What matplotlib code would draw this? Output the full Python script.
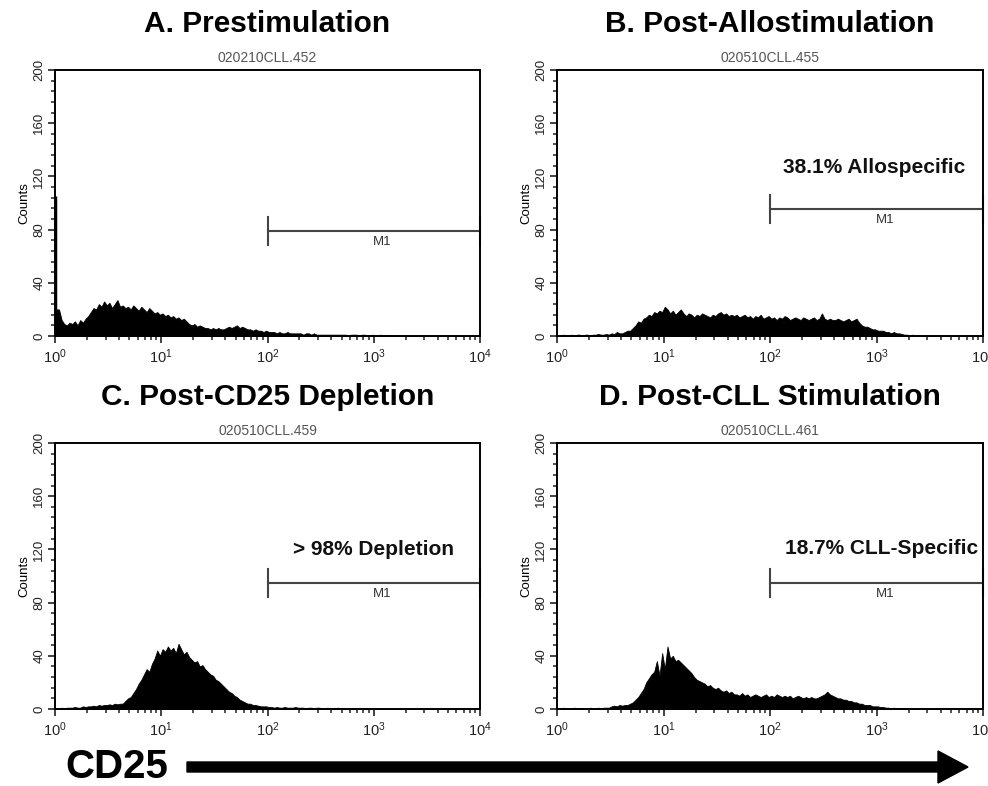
import numpy as np
import matplotlib
matplotlib.use("Agg")
import matplotlib.pyplot as plt
from matplotlib.ticker import LogLocator, MultipleLocator, NullFormatter
from matplotlib.patches import FancyArrow

plt.rcParams['font.family'] = ['Liberation Sans', 'DejaVu Sans']
plt.rcParams['mathtext.default'] = 'regular'

# histogram counts, 40 channels per decade from 10^0 to 10^4
counts_a = [105, 20, 12, 9, 8, 10, 9, 11, 8, 12, 10,
            13, 15, 18, 21,
            20, 24, 22, 26, 23, 25, 21, 24, 27, 22, 23, 21,
            22, 20, 23, 21, 19, 22, 20, 18, 21, 19, 17, 18, 16, 17,
            15, 16, 14, 15, 13, 14, 12, 13, 11,
            9, 8, 9, 7, 8, 7, 6,
            6, 5, 6, 5, 6, 5, 5, 6,
            7, 6, 7, 8, 6, 7, 6, 5,
            5, 4, 5, 4, 4, 3, 4, 3,
            3, 3, 2, 3, 2, 2, 3, 2, 2, 2, 2, 2, 1, 2, 2, 1, 2, 1, 1, 1,
            1, 1, 1, 1, 1, 1, 1, 1, 1, 0.5, 1, 1, 1, 0.5, 1, 1, 0.5, 0.5,
            1, 0.5, 0.5, 1, 0.5, 0.5, 0.5, 0.5, 0, 0.5,
            0, 0, 0, 0, 0, 0, 0, 0, 0, 0, 0, 0, 0, 0, 0, 0,
            0, 0, 0, 0, 0, 0, 0, 0, 0, 0, 0, 0, 0, 0, 0]

counts_b = [0.5, 0.5, 1, 0.5, 0.5, 1, 0.5, 1, 1, 0.5, 1, 1, 0.5, 1, 1, 1.5,
            1, 1, 1.5, 1, 2, 1.5,
            3, 2, 2, 3, 4, 4,
            6, 8, 11, 10, 13,
            14, 16, 15, 18, 17, 19, 18, 22,
            20, 17, 19, 16, 18, 20, 17, 15, 17, 16, 14, 16, 15, 17, 16, 15,
            14, 16, 15, 17, 18, 16, 17, 15, 16,
            15, 16, 14, 15, 16, 14, 15, 13, 15, 14, 16, 13, 14, 15, 13, 14,
            12, 14, 13, 15, 14, 12, 13, 14, 13, 12, 14, 13, 12, 13, 14, 12,
            13, 17, 13, 12, 13, 12,
            12, 13, 12, 11, 12, 13, 11, 12, 13, 10,
            8, 7, 7, 6, 5, 5, 4, 4, 4, 3, 3, 2, 3, 2, 2,
            1.5, 1, 1, 0.5, 1, 0.5, 0.5,
            0, 0, 0, 0, 0, 0, 0, 0, 0, 0, 0, 0,
            0, 0, 0, 0, 0, 0, 0, 0, 0, 0, 0, 0]

counts_c = [0.5, 0.5, 1, 0.5, 1, 1, 1, 1.5, 1, 1, 2, 1.5, 2, 2, 2.5, 2,
            3, 2.5, 3, 3, 3.5, 3, 4, 3.5, 4, 4,
            6, 8, 9, 12, 15, 19,
            22, 26, 30, 28, 34, 38,
            44, 40, 45, 43, 47, 44, 46, 42, 49, 45,
            41, 43, 39, 37, 35, 36, 32, 33,
            30, 28, 26, 25, 22, 21, 19, 17,
            15, 13, 12, 10, 9, 7, 6, 5,
            4, 4, 3, 3, 2.5, 2, 2, 2,
            1.5, 1.5, 1, 1.5, 1, 1, 1.5, 1, 1, 1, 1.5, 1, 1, 1, 0.5, 1,
            1, 0.5, 1, 1, 0.5, 0.5, 1, 0.5, 0.5, 0.5, 1, 0.5,
            0, 0, 0, 0, 0, 0, 0, 0, 0, 0, 0, 0, 0,
            0.5,
            0, 0, 0, 0, 0, 0, 0, 0, 0, 0, 0, 0, 0, 0, 0, 0, 0, 0, 0,
            0, 0, 0, 0, 0, 0, 0, 0, 0, 0, 0, 0, 0, 0, 0, 0, 0, 0, 0]

counts_d = [0.5, 0.5, 1, 0.5, 0.5, 0.5, 1, 0.5, 0.5, 0.5, 0.5, 0.5, 1, 0.5,
            0.5, 1, 0.5, 1, 1, 1,
            2, 2.5, 2, 3, 2.5, 3, 3, 4, 5,
            7, 9, 12, 15, 20, 23,
            26, 28, 36, 25, 42, 30, 47, 38, 40, 36, 37, 35,
            33, 31, 29, 27, 24, 22, 21, 20,
            19, 17, 18, 16, 15, 16, 14, 13, 14, 12, 13, 11,
            11, 10, 12, 10, 11, 9, 10, 11, 10, 9, 10, 11, 9, 10, 9, 11,
            10, 9, 10, 9, 10, 8, 9, 10, 9,
            8, 9, 8, 9, 8, 8, 9, 10, 11, 13, 11, 10,
            9, 8, 8, 7, 7, 6, 6, 5, 5,
            4, 4, 3, 3, 3, 2, 2, 2, 1.5, 1.5,
            1, 1, 0.5, 1, 0.5, 0.5, 0.5, 0,
            0, 0, 0, 0, 0, 0, 0, 0, 0, 0, 0, 0, 0, 0, 0,
            0, 0, 0, 0, 0, 0, 0, 0, 0, 0, 0, 0, 0, 0]

titles = ["A. Prestimulation", "B. Post-Allostimulation",
          "C. Post-CD25 Depletion", "D. Post-CLL Stimulation"]
files = ["020210CLL.452", "020510CLL.455", "020510CLL.459", "020510CLL.461"]
marker_y = [79, 95.5, 95, 95]
notes = ["", "38.1% Allospecific", "> 98% Depletion", "18.7% CLL-Specific"]
note_pos = [(0, 0), (10**2.12, 127), (10**2.24, 120), (10**2.14, 121)]
all_counts = [counts_a, counts_b, counts_c, counts_d]

W, H = 988, 786
fig = plt.figure(figsize=(W / 100, H / 100), dpi=100)

# overlay in pixel coordinates for titles and the CD25 arrow
ov = fig.add_axes([0, 0, 1, 1])
ov.set_xlim(0, W)
ov.set_ylim(H, 0)
ov.axis('off')

# panel boxes in pixels: left, top, right, bottom
boxes = [(55, 70, 480, 336), (557, 70, 983, 336),
         (55, 443, 480, 709), (557, 443, 983, 709)]

for k in range(4):
    l, t, r, b = boxes[k]
    ax = fig.add_axes([l / W, 1 - b / H, (r - l) / W, (b - t) / H])
    c = np.array(all_counts[k], dtype=float)
    xs = 10 ** ((np.arange(len(c)) + 0.5) / 40)
    # first channel drawn as a thin spike at the axis edge
    ax.vlines(1.0, 0, c[0], color='black', lw=2.5)
    fx = np.concatenate([[1.0], xs[1:]])
    fy = np.concatenate([[c[1]], c[1:]])
    ax.fill_between(fx, fy, 0, color='black', lw=0.6)
    ax.set_xscale('log')
    ax.set_xlim(1, 1e4)
    ax.set_ylim(0, 200)

    ax.xaxis.set_major_locator(LogLocator(base=10, numticks=10))
    ax.xaxis.set_minor_locator(LogLocator(base=10, subs=np.arange(2, 10), numticks=20))
    ax.xaxis.set_minor_formatter(NullFormatter())
    ax.yaxis.set_major_locator(MultipleLocator(40))
    ax.yaxis.set_minor_locator(MultipleLocator(8))
    ax.tick_params(which='major', direction='out', length=5, width=1.2,
                   labelsize=10.5, colors='#222')
    ax.tick_params(which='minor', direction='out', length=3, width=1.1, color='#222')
    ax.tick_params(axis='y', labelsize=9.5, pad=2)
    for lab in ax.get_yticklabels():
        lab.set_rotation(90)
        lab.set_va('center')
    for s in ax.spines.values():
        s.set_linewidth(1.4)
    ax.set_ylabel("Counts", fontsize=9.5, labelpad=2)

    # M1 marker
    my = marker_y[k]
    ax.plot([100, 1e4], [my, my], color='#444', lw=1.5)
    ax.plot([100, 100], [my - 10.5, my + 10.5], color='#444', lw=1.5)
    ax.plot([1e4, 1e4], [my - 10.5, my + 10.5], color='#444', lw=1.5, clip_on=False)
    ax.text(10**3.08, my - 8.5, "M1", ha='center', va='center', fontsize=9.5, color='#333')

    if notes[k]:
        ax.text(note_pos[k][0], note_pos[k][1], notes[k], ha='left', va='center',
                fontsize=15, fontweight='bold', color='#111')

    cx = (l + r) / 2
    ov.text(cx, 24 + t - 70, titles[k], ha='center', va='center',
            fontsize=21.5, fontweight='bold')
    ov.text(cx, 58 + t - 70, files[k], ha='center', va='center',
            fontsize=10, color='#555')

ov.text(65, 767, "CD25", ha='left', va='center', fontsize=29, fontweight='bold')
ov.add_patch(FancyArrow(187, 767, 781, 0, width=10, head_width=32, head_length=30,
                        length_includes_head=True, color='black'))

fig.savefig("out.png", dpi=100)
